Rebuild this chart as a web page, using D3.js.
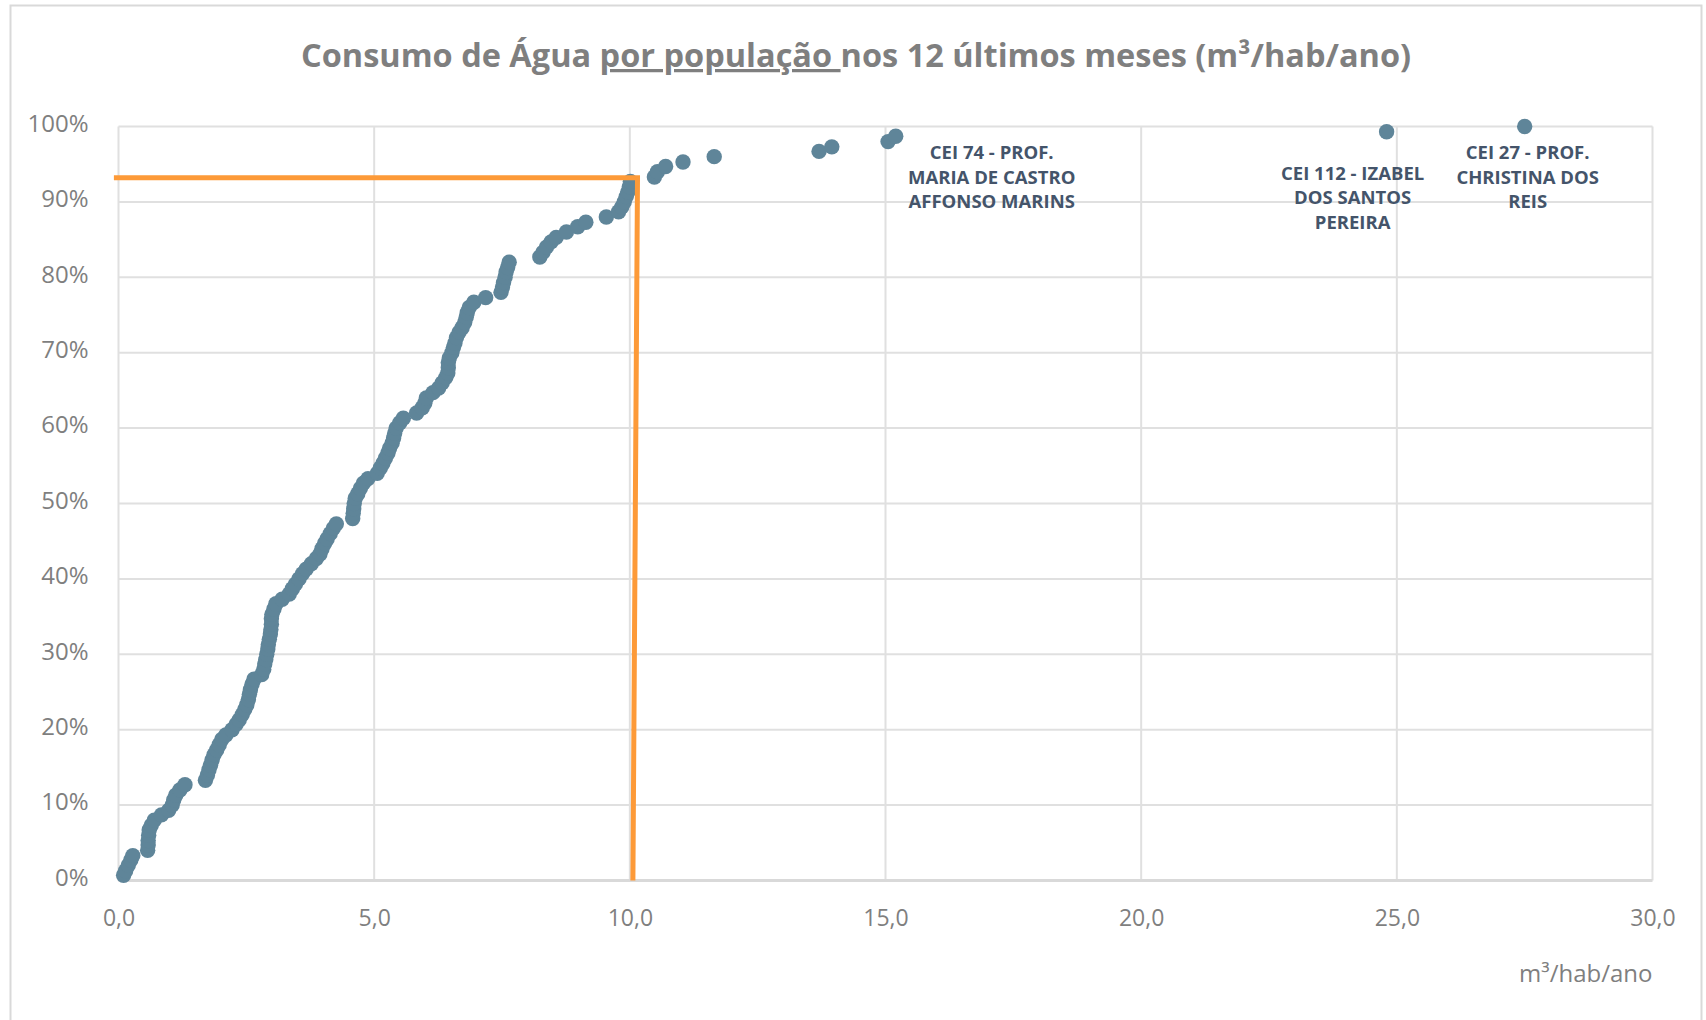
<!DOCTYPE html>
<html>
<head>
<meta charset="utf-8">
<script src="https://cdn.jsdelivr.net/npm/d3@7"></script>
<style>
  body { margin: 0; background: #fff; }
  text { font-family: "Open Sans", sans-serif; }
</style>
</head>
<body>
<div id="svg-area"></div>
<script>
// consumption per person (m3/hab/ano), sorted
const consumo = [
  0.10, 0.14, 0.19, 0.24, 0.28, 0.57, 0.58, 0.58, 0.59, 0.60,
  0.64, 0.70, 0.84, 0.98, 1.05, 1.08, 1.12, 1.20, 1.30, 1.70,
  1.74, 1.77, 1.80, 1.83, 1.87, 1.92, 1.97, 2.02, 2.10, 2.22,
  2.30, 2.36, 2.42, 2.47, 2.51, 2.54, 2.56, 2.58, 2.61, 2.65,
  2.80, 2.84, 2.86, 2.88, 2.90, 2.92, 2.93, 2.95, 2.97, 2.98,
  2.99, 2.99, 3.00, 3.04, 3.08, 3.20, 3.34, 3.40, 3.46, 3.53,
  3.60, 3.67, 3.77, 3.87, 3.94, 3.98, 4.03, 4.08, 4.14, 4.20,
  4.26, 4.58, 4.59, 4.60, 4.61, 4.63, 4.68, 4.73, 4.79, 4.88,
  5.06, 5.12, 5.17, 5.22, 5.27, 5.30, 5.35, 5.38, 5.40, 5.43,
  5.50, 5.57, 5.83, 5.94, 5.99, 6.02, 6.15, 6.26, 6.33, 6.40,
  6.44, 6.45, 6.45, 6.47, 6.52, 6.55, 6.58, 6.61, 6.66, 6.72,
  6.77, 6.80, 6.82, 6.86, 6.95, 7.18, 7.48, 7.51, 7.53, 7.56,
  7.58, 7.61, 7.64, 8.24, 8.30, 8.37, 8.46, 8.56, 8.76, 8.98,
  9.14, 9.54, 9.78, 9.84, 9.89, 9.93, 9.96, 9.99, 10.01, 10.48,
  10.54, 10.70, 11.04, 11.65, 13.70, 13.95, 15.05, 15.20, 24.80, 27.50
];

// cumulative share of units (%)
const percentual = [
  0.7, 1.3, 2.0, 2.7, 3.3, 4.0, 4.7, 5.3, 6.0, 6.7,
  7.3, 8.0, 8.7, 9.3, 10.0, 10.7, 11.3, 12.0, 12.7, 13.3,
  14.0, 14.7, 15.3, 16.0, 16.7, 17.3, 18.0, 18.7, 19.3, 20.0,
  20.7, 21.3, 22.0, 22.7, 23.3, 24.0, 24.7, 25.3, 26.0, 26.7,
  27.3, 28.0, 28.7, 29.3, 30.0, 30.7, 31.3, 32.0, 32.7, 33.3,
  34.0, 34.7, 35.3, 36.0, 36.7, 37.3, 38.0, 38.7, 39.3, 40.0,
  40.7, 41.3, 42.0, 42.7, 43.3, 44.0, 44.7, 45.3, 46.0, 46.7,
  47.3, 48.0, 48.7, 49.3, 50.0, 50.7, 51.3, 52.0, 52.7, 53.3,
  54.0, 54.7, 55.3, 56.0, 56.7, 57.3, 58.0, 58.7, 59.3, 60.0,
  60.7, 61.3, 62.0, 62.7, 63.3, 64.0, 64.7, 65.3, 66.0, 66.7,
  67.3, 68.0, 68.7, 69.3, 70.0, 70.7, 71.3, 72.0, 72.7, 73.3,
  74.0, 74.7, 75.3, 76.0, 76.7, 77.3, 78.0, 78.7, 79.3, 80.0,
  80.7, 81.3, 82.0, 82.7, 83.3, 84.0, 84.7, 85.3, 86.0, 86.7,
  87.3, 88.0, 88.7, 89.3, 90.0, 90.7, 91.3, 92.0, 92.7, 93.3,
  94.0, 94.7, 95.3, 96.0, 96.7, 97.3, 98.0, 98.7, 99.3, 100.0
];

const xTicks = [0, 5, 10, 15, 20, 25, 30];
const yTicks = [0, 10, 20, 30, 40, 50, 60, 70, 80, 90, 100];

// reference marker (orange) in data units
const refX = [-0.09, 10.15, 10.06];
const refY = [93.2, 93.2, 0];

// named outliers: index of point and label lines
const labelIdx = [147, 148, 149];
const labelLines = [
  ["CEI 74 - PROF.", "MARIA DE CASTRO", "AFFONSO MARINS"],
  ["CEI 112 - IZABEL", "DOS SANTOS", "PEREIRA"],
  ["CEI 27 - PROF.", "CHRISTINA DOS", "REIS"]
];
const labelDx = [96, -34, 3];
const labelDy = [22.5, 48, 32.5];

const svgWidth = 1706
const svgHeight = 1020

const plotLeft = 118.5, plotRight = 1652.5, plotTop = 126.5, plotBottom = 880.5

const svg = d3.select("#svg-area")
  .append("svg")
  .attr("width", svgWidth)
  .attr("height", svgHeight)

// chart border
svg.append("rect")
  .attr("x", 10.5).attr("y", 5.5)
  .attr("width", 1691).attr("height", 1040)
  .attr("fill", "#fff")
  .attr("stroke", "#d9d9d9")
  .attr("stroke-width", 2)

const x = d3.scaleLinear().domain([0, 30]).range([plotLeft, plotRight])
const y = d3.scaleLinear().domain([0, 100]).range([plotBottom, plotTop])

// gridlines
svg.append("g").selectAll("line")
  .data(yTicks.slice(1))
  .enter().append("line")
  .attr("x1", plotLeft).attr("x2", plotRight)
  .attr("y1", d => y(d)).attr("y2", d => y(d))
  .attr("stroke", "#e0e0e0").attr("stroke-width", 2)

svg.append("g").selectAll("line")
  .data(xTicks)
  .enter().append("line")
  .attr("x1", d => x(d)).attr("x2", d => x(d))
  .attr("y1", plotTop).attr("y2", plotBottom)
  .attr("stroke", "#e0e0e0").attr("stroke-width", 2)

// axis line at 0%
svg.append("line")
  .attr("x1", plotLeft).attr("x2", plotRight)
  .attr("y1", y(0)).attr("y2", y(0))
  .attr("stroke", "#d9d9d9").attr("stroke-width", 3)

// tick labels
const yAxis = d3.axisLeft(y).tickValues(yTicks).tickSize(0).tickPadding(30)
  .tickFormat(d => d + "%")
svg.append("g")
  .attr("transform", `translate(${plotLeft},0)`)
  .call(yAxis)
  .call(g => g.select(".domain").remove())
  .selectAll("text")
  .attr("fill", "#7f7f7f")
  .attr("font-size", 24)
  .attr("font-family", "Open Sans")
  .attr("dy", "0.2em")

const xAxis = d3.axisBottom(x).tickValues(xTicks).tickSize(0).tickPadding(29)
  .tickFormat(d => d3.format(".1f")(d).replace(".", ","))
svg.append("g")
  .attr("transform", `translate(0,${plotBottom})`)
  .call(xAxis)
  .call(g => g.select(".domain").remove())
  .selectAll("text")
  .attr("fill", "#7f7f7f")
  .attr("font-size", 23)
  .attr("font-family", "Open Sans")

svg.append("text")
  .attr("x", plotRight).attr("y", 982)
  .attr("text-anchor", "end")
  .attr("fill", "#7f7f7f")
  .attr("font-size", 24)
  .text("m³/hab/ano")

// title
const title = svg.append("text")
  .attr("x", 856).attr("y", 67)
  .attr("text-anchor", "middle")
  .attr("fill", "#7f7f7f")
  .attr("font-size", 32.5)
  .attr("font-weight", "bold")
title.append("tspan").text("Consumo de Água ")
title.append("tspan").attr("text-decoration", "underline").text("por população ")
title.append("tspan").text("nos 12 últimos meses (m³/hab/ano)")

// points
const pontos = consumo.map((v, i) => ({ x: v, y: percentual[i] }))
svg.append("g").selectAll("circle")
  .data(pontos)
  .enter().append("circle")
  .attr("cx", d => x(d.x))
  .attr("cy", d => y(d.y))
  .attr("r", 7.7)
  .attr("fill", "#5f8599")

// outlier labels
labelIdx.forEach((idx, j) => {
  const t = svg.append("text")
    .attr("text-anchor", "middle")
    .attr("fill", "#44546a")
    .attr("font-size", 18.5)
    .attr("font-weight", "bold")
  labelLines[j].forEach((line, k) => {
    t.append("tspan")
      .attr("x", x(consumo[idx]) + labelDx[j])
      .attr("y", y(percentual[idx]) + labelDy[j] + k * 24.7)
      .text(line)
  })
})

// orange reference line
const refLine = d3.line().x(d => x(d[0])).y(d => y(d[1]))
svg.append("path")
  .datum(refX.map((v, i) => [v, refY[i]]))
  .attr("d", refLine)
  .attr("fill", "none")
  .attr("stroke", "#fd9a38")
  .attr("stroke-width", 5)
</script>
</body>
</html>
